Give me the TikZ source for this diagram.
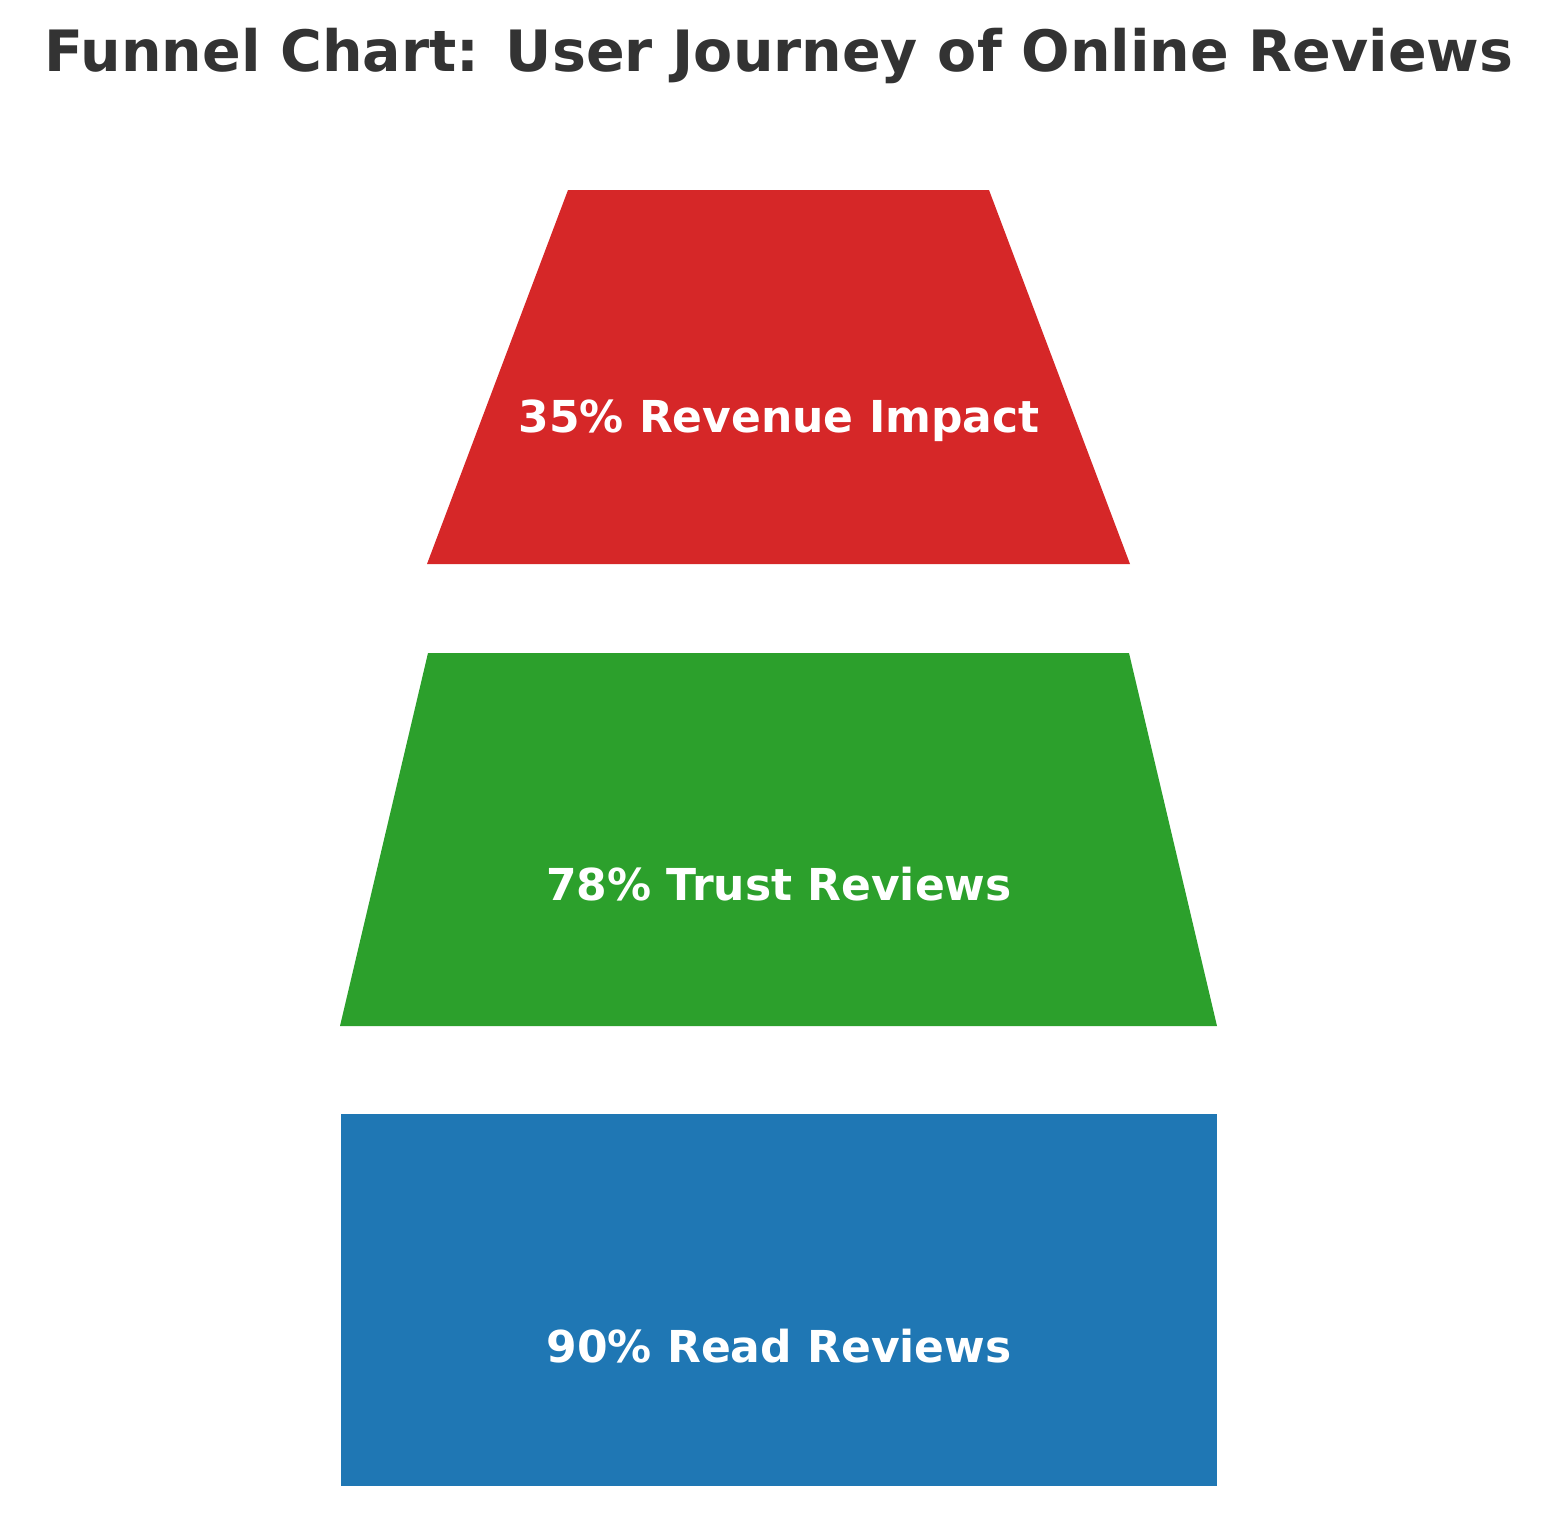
\documentclass[tikz,border=0pt]{standalone}
\usepackage{fontspec}
\setmainfont{DejaVu Sans}
\definecolor{stagered}{HTML}{D62728}
\definecolor{stagegreen}{HTML}{2CA02C}
\definecolor{stageblue}{HTML}{1F77B4}
\definecolor{titlegray}{HTML}{333333}
\tikzset{stagelabel/.style={text=white, font=\fontsize{44}{52}\selectfont\bfseries, inner sep=0pt}}
\begin{document}
\begin{tikzpicture}[x=1pt, y=-1pt]
\useasboundingbox (0,0) rectangle (1557,1516);
\node (title) [text=titlegray, font=\fontsize{57}{66}\selectfont\bfseries, inner sep=0pt] at (779,56) {Funnel Chart: User Journey of Online Reviews};
% funnel stages
\fill [stagered] (568,190) -- (989,190) -- (1130,564) -- (427,564) -- cycle;
\fill [stagegreen] (428,653) -- (1129,653) -- (1217,1026) -- (340,1026) -- cycle;
\fill [stageblue] (341,1114) rectangle (1217,1486);
\node (revenue) [stagelabel] at (779,421) {35\% Revenue Impact};
\node (trust) [stagelabel] at (779,884) {78\% Trust Reviews};
\node (read) [stagelabel] at (779,1346) {90\% Read Reviews};
\end{tikzpicture}
\end{document}
